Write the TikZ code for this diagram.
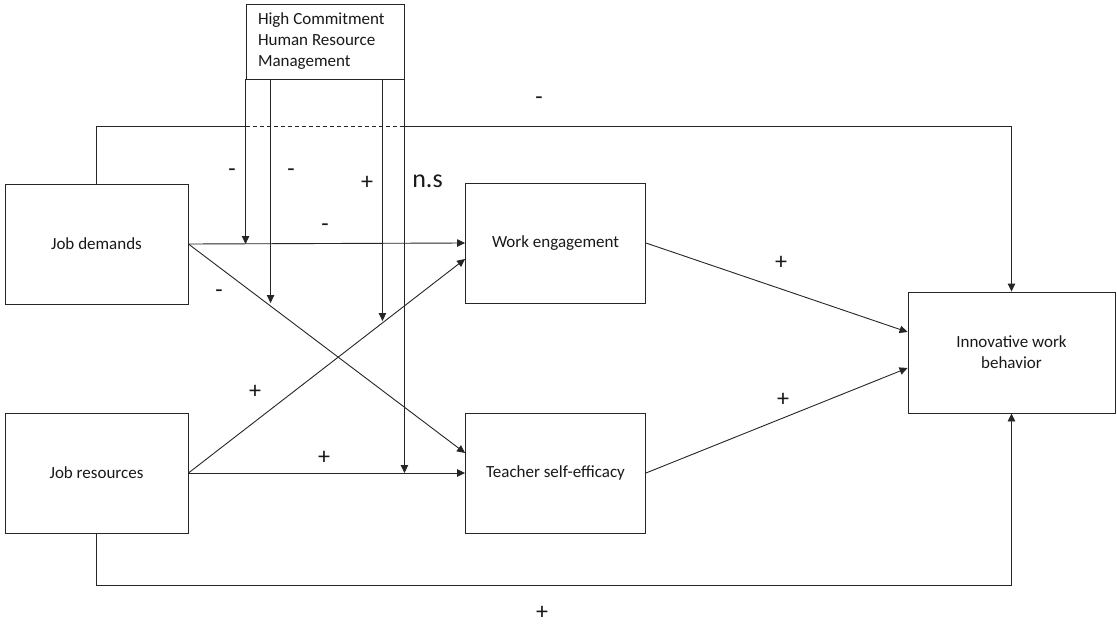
\documentclass[tikz,border=0pt]{standalone}
\usepackage{fontspec}
\setmainfont{Carlito}
\usetikzlibrary{arrows.meta}
\begin{document}
\begin{tikzpicture}[x=1pt,y=-1pt,
 box/.style={draw=black!85, line width=0.9pt, inner sep=0pt, font=\fontsize{17}{21}\selectfont, align=center, text=black!90},
 conn/.style={draw=black!85, line width=0.9pt},
 arr/.style={conn, -{Triangle[length=8pt,width=7.5pt]}},
 lab/.style={inner sep=0pt, font=\fontsize{24}{28}\selectfont, text=black!90}]
\useasboundingbox (0,0) rectangle (1117,624);
\fill[white] (0,0) rectangle (1117,624);
% boxes
\node[box, minimum width=183pt, minimum height=120pt] (jd) at (96.5,244) {Job demands};
\node[box, minimum width=183pt, minimum height=120pt] (jr) at (96.5,473) {Job resources};
\node[box, minimum width=180pt, minimum height=120pt] (we) at (555.5,243) {Work engagement};
\node[box, minimum width=180pt, minimum height=120pt] (ts) at (555.5,473) {Teacher self-efficacy};
\node[box, minimum width=207pt, minimum height=121pt] (iw) at (1011.5,352.5) {Innovative work\\behavior};
\node[box, minimum width=158pt, minimum height=75pt, align=flush left, text width=134pt] (hc) at (325,41.5) {High Commitment\\Human Resource\\Management};
% main arrows
\draw[arr] (jd.east) -- (we.west);
\draw[arr] (jd.east) -- ([yshift=20pt]ts.west);
\draw[arr] (jr.east) -- ([yshift=-16pt]we.west);
\draw[arr] (jr.east) -- (ts.west);
\draw[arr] (we.east) -- ([yshift=20.5pt]iw.west);
\draw[arr] (ts.east) -- ([yshift=-15.5pt]iw.west);
% top path with dashed part
\coordinate (t1) at (hc.south west |- 0,126);
\coordinate (t2) at (hc.south east |- 0,126);
\draw[conn] (jd.north) |- (t1);
\draw[conn, dash pattern=on 4pt off 3pt] (t1) -- (t2);
\draw[arr] (t2) -| (iw.north);
% bottom path
\coordinate (b1) at (jr.south |- 0,585);
\draw[arr] (jr.south) -- (b1) -| (iw.south);
% moderator arrows
\coordinate (h1) at ([xshift=25pt]hc.south west);
\coordinate (h2) at ([xshift=-22pt]hc.south east);
\coordinate (m1) at (h1 |- 0,303);
\coordinate (m2) at (h2 |- 0,321);
\draw[arr] (hc.south west) -- (hc.south west |- jd.east);
\draw[arr] (h1) -- (m1);
\draw[arr] (h2) -- (m2);
\draw[arr] (hc.south east) -- (hc.south east |- ts.west);
% labels
\node[lab] (l1) at (539,101) {-};
\node[lab] (l2) at (232,173) {-};
\node[lab] (l3) at (291,173) {-};
\node[lab] (l4) at (367,183) {+};
\node[lab, font=\fontsize{26}{30}\selectfont] (l5) at (427.5,181) {n.s};
\node[lab] (l6) at (325,228) {-};
\node[lab] (l7) at (219,294) {-};
\node[lab] (l8) at (781,263) {+};
\node[lab] (l9) at (783,400) {+};
\node[lab] (l10) at (255,392) {+};
\node[lab] (l11) at (324,458) {+};
\node[lab] (l12) at (542,613) {+};
\end{tikzpicture}
\end{document}
